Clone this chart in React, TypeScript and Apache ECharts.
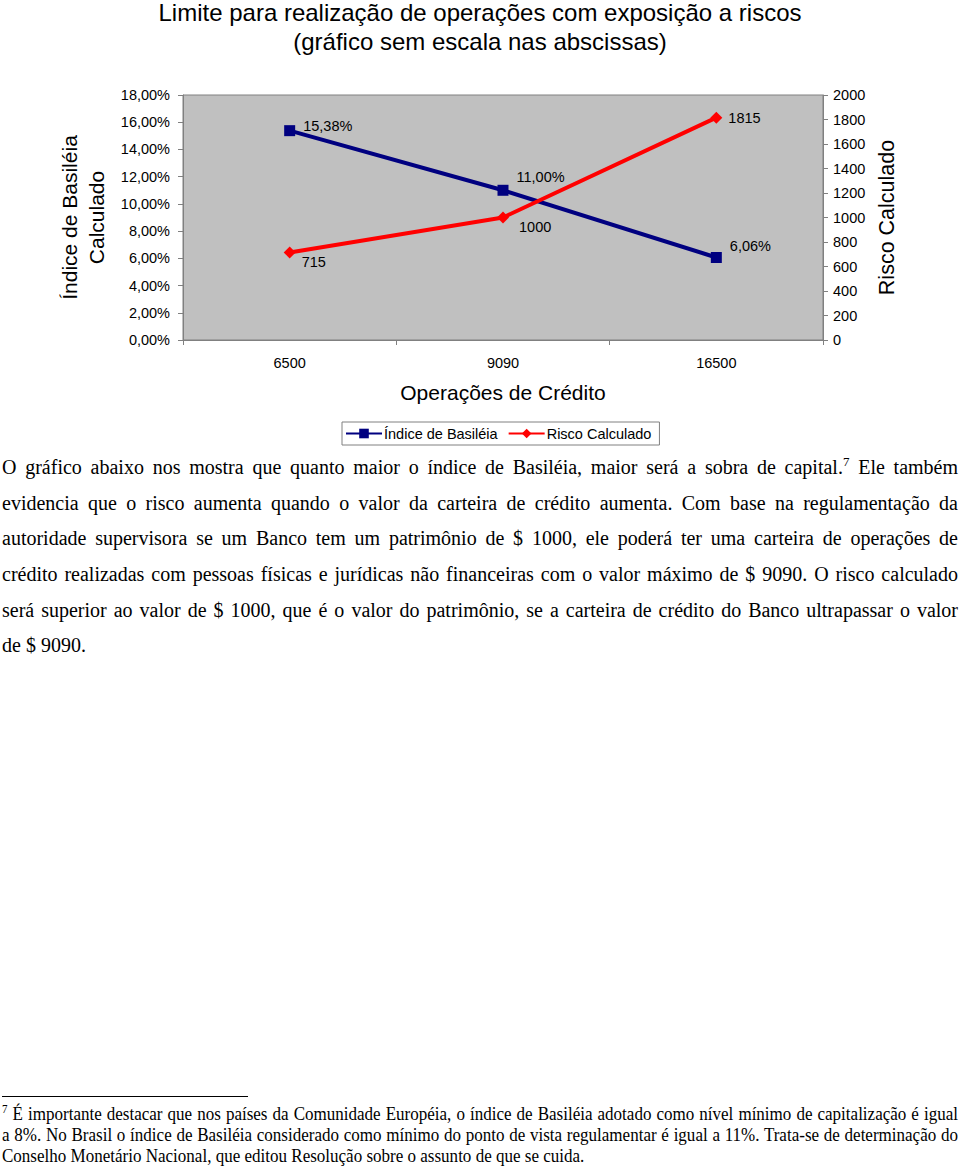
import React, { useEffect, useRef } from "react";
import * as echarts from "echarts";

const titleLines = [
  "Limite para realização de operações com exposição a riscos",
  "(gráfico sem escala nas abscissas)",
];
const categories = ["6500", "9090", "16500"];
const indiceBasileia = [15.38, 11.0, 6.06];
const riscoCalculado = [715, 1000, 1815];
const seriesNames = ["Índice de Basiléia", "Risco Calculado"];
const xAxisName = "Operações de Crédito";
const leftAxisName = "Índice de Basiléia\nCalculado";
const rightAxisName = "Risco Calculado";

const paragraphLines = [
  ["O gráfico abaixo nos mostra que quanto maior o índice de Basiléia, maior será a sobra de capital.", "7", " Ele também"],
  ["evidencia que o risco aumenta quando o valor da carteira de crédito aumenta. Com base na regulamentação da"],
  ["autoridade supervisora se um Banco tem um patrimônio de $ 1000, ele poderá ter uma carteira de operações de"],
  ["crédito realizadas com pessoas físicas e jurídicas não financeiras com o valor máximo de $ 9090. O risco calculado"],
  ["será superior ao valor de $ 1000, que é o valor do patrimônio, se a carteira de crédito do Banco ultrapassar o valor"],
  ["de $ 9090."],
];
const footnoteLines = [
  ["", "7", " É importante destacar que nos países da Comunidade Européia, o índice de Basiléia adotado como nível mínimo de capitalização é igual"],
  ["a 8%. No Brasil o índice de Basiléia considerado como mínimo do ponto de vista regulamentar é igual a 11%. Trata-se de determinação do"],
  ["Conselho Monetário Nacional, que editou Resolução sobre o assunto de que se cuida."],
];

const blueLabelOffsets = [[0, -5], [0, -13], [0, -12]];
const redLabelOffsets = [[0, 10], [4, 9], [0, 0]];

const fmtPct = (v: number) => v.toFixed(2).replace(".", ",") + "%";

function Chart() {
  const ref = useRef<HTMLDivElement>(null);
  useEffect(() => {
    if (!ref.current) return;
    const chart = echarts.init(ref.current, undefined, { renderer: "svg" });
    const font = "'Liberation Sans', Arial, sans-serif";
    const fs = 14.5;
    chart.setOption({
      animation: false,
      textStyle: { fontFamily: font, color: "#000" },
      title: {
        text: titleLines.join("\n"),
        left: "center",
        top: -7,
        textStyle: { fontFamily: font, fontSize: 24, fontWeight: "normal", color: "#000", lineHeight: 29 },
      },
      grid: {
        left: 183,
        top: 95,
        width: 640,
        height: 245,
        show: true,
        backgroundColor: "#c0c0c0",
        borderColor: "#808080",
        borderWidth: 1,
      },
      legend: {
        data: seriesNames,
        left: 342,
        top: 422,
        itemWidth: 36,
        itemHeight: 12,
        itemGap: 10,
        padding: [4, 8, 4, 3],
        borderColor: "#808080",
        borderWidth: 1,
        textStyle: { fontFamily: font, fontSize: fs, color: "#000", padding: [0, 0, 0, -3] },
      },
      xAxis: {
        type: "category",
        data: categories,
        boundaryGap: true,
        axisLine: { lineStyle: { color: "#808080", width: 1 } },
        axisTick: { show: true, length: 5, lineStyle: { color: "#808080" } },
        axisLabel: { fontFamily: font, fontSize: fs, color: "#000", margin: 15 },
        name: xAxisName,
        nameLocation: "middle",
        nameGap: 42,
        nameTextStyle: { fontFamily: font, fontSize: 21, color: "#000" },
      },
      yAxis: [
        {
          type: "value",
          min: 0,
          max: 18,
          interval: 2,
          position: "left",
          splitLine: { show: false },
          axisLine: { show: true, lineStyle: { color: "#808080" } },
          axisTick: { show: true, length: 5, lineStyle: { color: "#808080" } },
          axisLabel: { fontFamily: font, fontSize: fs, color: "#000", margin: 13, formatter: (v: number) => fmtPct(v) },
          name: leftAxisName,
          nameLocation: "middle",
          nameRotate: 90,
          nameGap: 71,
          nameTextStyle: { fontFamily: font, fontSize: 21, color: "#000", lineHeight: 27 },
        },
        {
          type: "value",
          min: 0,
          max: 2000,
          interval: 200,
          position: "right",
          splitLine: { show: false },
          axisLine: { show: true, lineStyle: { color: "#808080" } },
          axisTick: { show: true, length: 5, lineStyle: { color: "#808080" } },
          axisLabel: { fontFamily: font, fontSize: fs, color: "#000", margin: 10, formatter: (v: number) => String(v) },
          name: rightAxisName,
          nameLocation: "middle",
          nameRotate: 90,
          nameGap: 53,
          nameTextStyle: { fontFamily: font, fontSize: 21.5, color: "#000" },
        },
      ],
      series: [
        {
          name: seriesNames[0],
          type: "line",
          yAxisIndex: 0,
          symbol: "rect",
          symbolSize: 11,
          itemStyle: { color: "#000080" },
          lineStyle: { color: "#000080", width: 4 },
          data: indiceBasileia.map((v, i) => ({
            value: v,
            label: { offset: blueLabelOffsets[i] },
          })),
          label: {
            show: true,
            position: "right",
            distance: 8,
            fontFamily: font,
            fontSize: fs,
            color: "#000",
            formatter: (p: any) => fmtPct(p.value),
          },
        },
        {
          name: seriesNames[1],
          type: "line",
          yAxisIndex: 1,
          symbol: "diamond",
          symbolSize: 12,
          itemStyle: { color: "#ff0000" },
          lineStyle: { color: "#ff0000", width: 4 },
          data: riscoCalculado.map((v, i) => ({
            value: v,
            label: { offset: redLabelOffsets[i] },
          })),
          label: {
            show: true,
            position: "right",
            distance: 6,
            fontFamily: font,
            fontSize: fs,
            color: "#000",
          },
        },
      ],
    });
    return () => chart.dispose();
  }, []);
  return <div ref={ref} style={{ position: "absolute", left: 0, top: 0, width: 960, height: 455 }} />;
}

function Line({ parts, top, lh, size, justify, supSize, scaleX = 1 }: any) {
  return (
    <div
      style={{
        position: "absolute",
        left: 2,
        top,
        width: 956 / scaleX,
        height: lh,
        lineHeight: lh + "px",
        fontSize: size,
        fontFamily: "'Liberation Serif', 'Times New Roman', serif",
        color: "#000",
        textAlign: justify ? "justify" : "left",
        textAlignLast: justify ? "justify" : "left",
        whiteSpace: "nowrap",
        overflow: "visible",
        transform: scaleX !== 1 ? `scaleX(${scaleX})` : undefined,
        transformOrigin: "0 0",
      } as any}
    >
      {parts.length === 1 ? (
        parts[0]
      ) : (
        <>
          {parts[0]}
          <sup style={{ fontSize: supSize, lineHeight: 0, verticalAlign: "0.6em" }}>{parts[1]}</sup>
          {parts[2]}
        </>
      )}
    </div>
  );
}

export default function App() {
  const pTop = 468;
  const pStep = 35.6;
  const fTop = 1114;
  const fStep = 21;
  return (
    <div style={{ position: "absolute", left: 0, top: 0, width: 960, height: 1166, background: "#fff" }}>
      <Chart />
      {paragraphLines.map((parts, i) => (
        <Line
          key={"p" + i}
          parts={parts}
          top={pTop + i * pStep - pStep / 2}
          lh={pStep}
          size={20}
          supSize={13}
          justify={i < paragraphLines.length - 1}
        />
      ))}
      <div style={{ position: "absolute", left: 2, top: 1096, width: 246, height: 1, background: "#000" }} />
      {footnoteLines.map((parts, i) => (
        <Line
          key={"f" + i}
          parts={parts}
          top={fTop + i * fStep - fStep / 2}
          lh={fStep}
          size={18.5}
          supSize={12}
          scaleX={0.92}
          justify={i < footnoteLines.length - 1}
        />
      ))}
    </div>
  );
}
